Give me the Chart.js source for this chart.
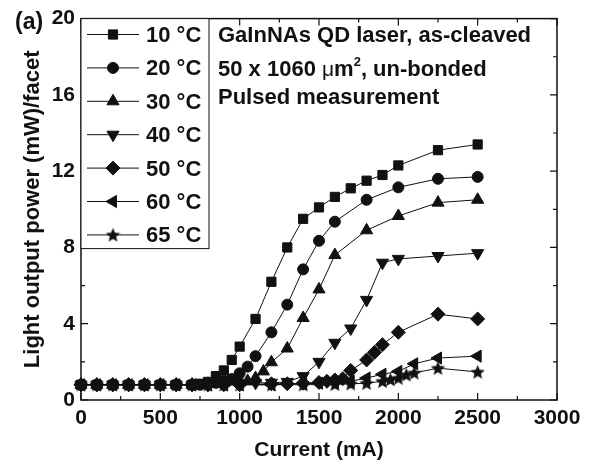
<!DOCTYPE html>
<html>
<head>
<meta charset="utf-8">
<script src="https://cdn.jsdelivr.net/npm/chart.js@4.4.1/dist/chart.umd.min.js"></script>
<style>
  html, body { margin: 0; padding: 0; background: #fff; }
  #chart { display: block; }
</style>
</head>
<body>
<canvas id="chart" width="589" height="464"></canvas>
<script>
// L-I curves, GaInNAs QD laser
const flatI = [0, 100, 200, 300, 400, 500, 600, 700];
const flatP = [0.8, 0.8, 0.8, 0.8, 0.8, 0.8, 0.8, 0.8];

const current10 = flatI.concat([750, 800, 850, 900, 950, 1000, 1100, 1200, 1300, 1400, 1500, 1600, 1700, 1800, 1900, 2000, 2250, 2500]);
const power10 = flatP.concat([0.85, 0.95, 1.25, 1.55, 2.1, 2.8, 4.25, 6.2, 8.0, 9.5, 10.1, 10.65, 11.1, 11.5, 11.8, 12.3, 13.1, 13.4]);

const current20 = flatI.concat([750, 800, 850, 900, 950, 1000, 1050, 1100, 1200, 1300, 1400, 1500, 1600, 1800, 2000, 2250, 2500]);
const power20 = flatP.concat([0.8, 0.85, 0.9, 1.0, 1.1, 1.4, 1.75, 2.3, 3.55, 5.0, 6.85, 8.35, 9.35, 10.5, 11.15, 11.6, 11.7]);

const current30 = flatI.concat([800, 900, 1000, 1050, 1100, 1150, 1200, 1300, 1400, 1500, 1600, 1800, 2000, 2250, 2500]);
const power30 = flatP.concat([0.85, 0.9, 0.95, 1.0, 1.15, 1.5, 1.98, 2.7, 4.3, 5.8, 7.6, 8.9, 9.65, 10.35, 10.5]);

const current40 = flatI.concat([800, 900, 1000, 1100, 1200, 1300, 1400, 1500, 1600, 1700, 1800, 1900, 2000, 2250, 2500]);
const power40 = flatP.concat([0.8, 0.85, 0.85, 0.9, 0.9, 0.95, 1.25, 2.0, 3.0, 3.75, 5.25, 7.2, 7.4, 7.55, 7.7]);

const current50 = flatI.concat([800, 900, 1000, 1200, 1300, 1400, 1500, 1550, 1600, 1650, 1700, 1800, 1850, 1900, 2000, 2250, 2500]);
const power50 = flatP.concat([0.8, 0.8, 0.8, 0.85, 0.85, 0.88, 0.92, 0.98, 1.05, 1.12, 1.55, 2.1, 2.5, 2.9, 3.55, 4.5, 4.25]);

const current60 = flatI.concat([800, 900, 1000, 1200, 1400, 1500, 1600, 1700, 1800, 1900, 2000, 2100, 2250, 2500]);
const power60 = flatP.concat([0.8, 0.8, 0.8, 0.8, 0.85, 0.88, 0.92, 0.98, 1.15, 1.35, 1.5, 1.9, 2.2, 2.3]);

const current65 = flatI.concat([800, 900, 1000, 1200, 1400, 1600, 1700, 1800, 1900, 1950, 2000, 2050, 2100, 2250, 2500]);
const power65 = flatP.concat([0.8, 0.8, 0.8, 0.8, 0.8, 0.82, 0.85, 0.88, 0.98, 1.07, 1.15, 1.32, 1.42, 1.67, 1.47]);

const seriesLabels = ['10 °C', '20 °C', '30 °C', '40 °C', '50 °C', '60 °C', '65 °C'];
const xTicks = [0, 500, 1000, 1500, 2000, 2500, 3000];
const yTicks = [0, 4, 8, 12, 16, 20];

const INK = '#111';
const FONT = '"Liberation Sans", Arial, sans-serif';

// filled five-point star (Chart.js 'star' is only an asterisk)
function makeStar(size) {
    const c = document.createElement('canvas');
    c.width = size; c.height = size;
    const g = c.getContext('2d');
    const R = size / 2, r = R * 0.45;
    g.fillStyle = INK;
    g.beginPath();
    for (let i = 0; i < 10; i++) {
        const a = -Math.PI / 2 + i * Math.PI / 5;
        const rr = i % 2 ? r : R;
        g.lineTo(R + rr * Math.cos(a), R * 1.08 + rr * Math.sin(a));
    }
    g.closePath();
    g.fill();
    return c;
}

const markers = [
    { pointStyle: 'rect', rotation: 0, radius: 6.5 },
    { pointStyle: 'circle', rotation: 0, radius: 5.5 },
    { pointStyle: 'triangle', rotation: 0, radius: 7 },
    { pointStyle: 'triangle', rotation: 180, radius: 7 },
    { pointStyle: 'rectRot', rotation: 0, radius: 7 },
    { pointStyle: 'triangle', rotation: -90, radius: 7 },
    { pointStyle: makeStar(15), rotation: 0, radius: 7 }
];

const currents = [current10, current20, current30, current40, current50, current60, current65];
const powers = [power10, power20, power30, power40, power50, power60, power65];

const datasets = seriesLabels.map((label, i) => ({
    label: label,
    data: currents[i].map((c, k) => ({ x: c, y: powers[i][k] })),
    borderColor: INK,
    borderWidth: 1,
    backgroundColor: INK,
    pointBackgroundColor: INK,
    pointBorderColor: INK,
    pointBorderWidth: 1,
    pointStyle: markers[i].pointStyle,
    rotation: markers[i].rotation,
    pointRadius: markers[i].radius,
    tension: 0,
    clip: false
}));

// box frame, inward ticks on all four sides, legend and notes
const framePlugin = {
    id: 'frame',
    afterDraw(chart) {
        const { ctx, chartArea: a, scales: { x, y } } = chart;
        ctx.save();
        ctx.strokeStyle = INK;
        ctx.lineWidth = 1.5;
        ctx.strokeRect(a.left, a.top, a.right - a.left, a.bottom - a.top);

        ctx.lineWidth = 1.2;
        ctx.beginPath();
        for (let k = 0; k < xTicks.length; k++) {
            const v = xTicks[k];
            const px = x.getPixelForValue(v);
            ctx.moveTo(px, a.bottom); ctx.lineTo(px, a.bottom - 7);
            ctx.moveTo(px, a.top); ctx.lineTo(px, a.top + 7);
            if (k < xTicks.length - 1) {
                const mx = x.getPixelForValue((v + xTicks[k + 1]) / 2);
                ctx.moveTo(mx, a.bottom); ctx.lineTo(mx, a.bottom - 4);
                ctx.moveTo(mx, a.top); ctx.lineTo(mx, a.top + 4);
            }
        }
        for (let k = 0; k < yTicks.length; k++) {
            const v = yTicks[k];
            const py = y.getPixelForValue(v);
            ctx.moveTo(a.left, py); ctx.lineTo(a.left + 7, py);
            ctx.moveTo(a.right, py); ctx.lineTo(a.right - 7, py);
            if (k < yTicks.length - 1) {
                const my = y.getPixelForValue((v + yTicks[k + 1]) / 2);
                ctx.moveTo(a.left, my); ctx.lineTo(a.left + 4, my);
                ctx.moveTo(a.right, my); ctx.lineTo(a.right - 4, my);
            }
        }
        ctx.stroke();

        // legend box
        ctx.fillStyle = '#fff';
        ctx.fillRect(a.left, a.top, 128, 230);
        ctx.lineWidth = 1;
        ctx.strokeRect(a.left, a.top, 128, 230);
        ctx.fillStyle = INK;
        ctx.font = 'bold 22px ' + FONT;
        ctx.textAlign = 'left';
        ctx.textBaseline = 'alphabetic';
        seriesLabels.forEach((label, i) => {
            const cy = 34.5 + i * 33.4;
            ctx.beginPath();
            ctx.moveTo(a.left + 6, cy); ctx.lineTo(a.left + 58, cy);
            ctx.stroke();
            Chart.helpers.drawPoint(ctx, {
                pointStyle: markers[i].pointStyle,
                rotation: markers[i].rotation,
                radius: markers[i].radius,
                borderWidth: 1
            }, a.left + 32, cy);
            ctx.fillStyle = INK;
            ctx.fillText(label, a.left + 65, cy + 7.5);
        });

        // panel label and notes
        ctx.textAlign = 'left';
        ctx.font = 'bold 23px ' + FONT;
        ctx.fillText('(a)', 15, 29);
        ctx.font = 'bold 22px ' + FONT;
        const nx = 218;
        ctx.fillText('GaInNAs QD laser, as-cleaved', nx, 42);
        let cx = nx;
        const part = (txt, font, dy) => {
            ctx.font = font;
            ctx.fillText(txt, cx, 76 + (dy || 0));
            cx += ctx.measureText(txt).width;
        };
        part('50 x 1060 ', 'bold 22px ' + FONT);
        part('\u03bc', '21px ' + FONT);
        part('m', 'bold 22px ' + FONT);
        part('2', 'bold 13px ' + FONT, -10);
        part(', un-bonded', 'bold 22px ' + FONT);
        ctx.font = 'bold 22px ' + FONT;
        ctx.fillText('Pulsed measurement', nx, 104);
        ctx.restore();
    }
};

new Chart(document.getElementById('chart'), {
    type: 'line',
    data: { datasets: datasets },
    options: {
        responsive: false,
        animation: false,
        layout: { padding: { left: 0, right: 32, top: 18, bottom: 0 } },
        plugins: { legend: { display: false }, tooltip: { enabled: false } },
        scales: {
            x: {
                type: 'linear',
                min: 0,
                max: 3000,
                afterBuildTicks: s => { s.ticks = xTicks.map(v => ({ value: v })); },
                afterFit: s => { s.height = 64; },
                grid: { display: false, drawTicks: false, tickLength: 0 },
                border: { display: false },
                ticks: {
                    color: INK,
                    padding: 6,
                    font: { family: FONT, size: 21, weight: 'bold' },
                    callback: v => String(v)
                },
                title: {
                    display: true,
                    text: 'Current (mA)',
                    color: INK,
                    padding: { top: 0, bottom: 1.5 },
                    font: { family: FONT, size: 21, weight: 'bold' }
                }
            },
            y: {
                type: 'linear',
                min: 0,
                max: 20,
                afterBuildTicks: s => { s.ticks = yTicks.map(v => ({ value: v })); },
                afterFit: s => { s.width = 81; },
                grid: { display: false, drawTicks: false, tickLength: 0 },
                border: { display: false },
                ticks: {
                    color: INK,
                    padding: 6,
                    font: { family: FONT, size: 21, weight: 'bold' },
                    callback: v => String(v)
                },
                title: {
                    display: true,
                    text: 'Light output power (mW)/facet',
                    color: INK,
                    padding: { top: 20, bottom: 0 },
                    font: { family: FONT, size: 22, weight: 'bold' }
                }
            }
        }
    },
    plugins: [framePlugin]
});
</script>
</body>
</html>
